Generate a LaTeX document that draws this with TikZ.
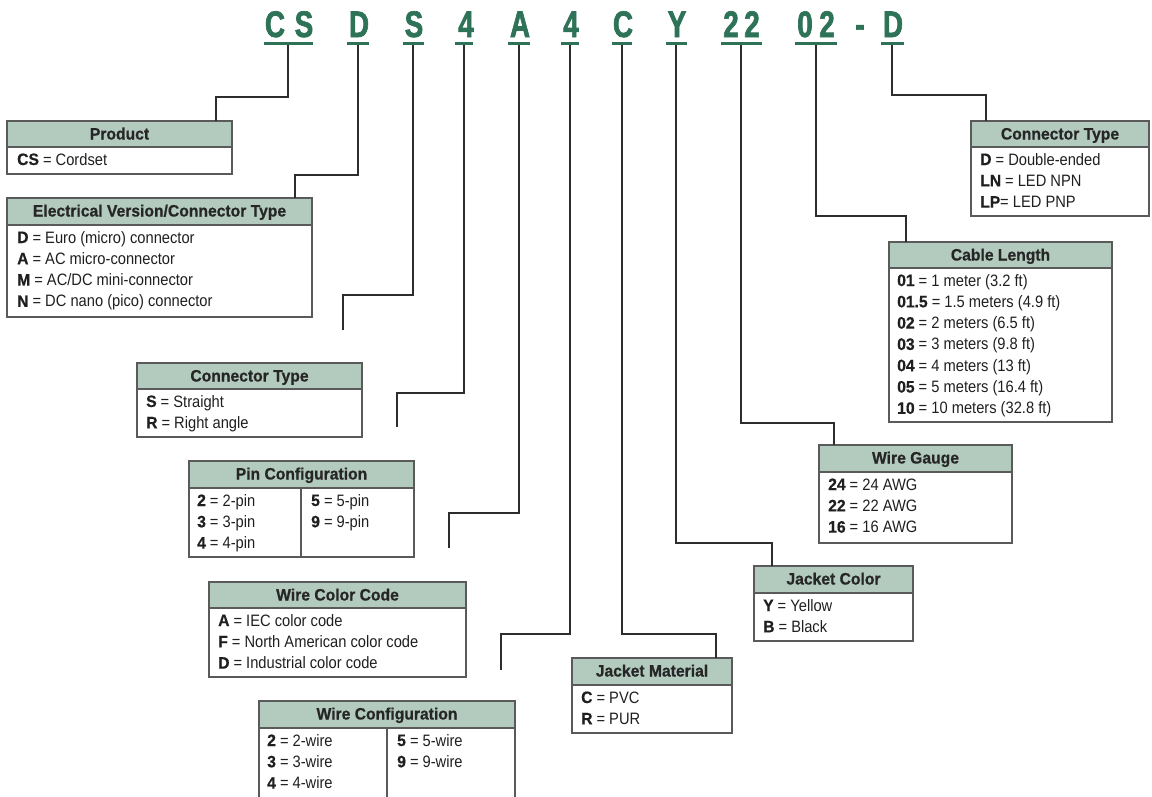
\documentclass[tikz,border=0pt]{standalone}
\usepackage{fontspec}
\setmainfont{Liberation Sans}[FakeStretch=0.89, BoldFeatures={FakeStretch=0.95, FakeBold=0.6}]
\newfontfamily\codefont{Liberation Sans}[FakeStretch=0.75, BoldFeatures={FakeStretch=0.75, FakeBold=1.8}]
\definecolor{codegreen}{RGB}{46,115,88}
\definecolor{hdrgreen}{RGB}{179,203,191}
\definecolor{boxgray}{RGB}{90,90,90}
\definecolor{linegray}{RGB}{45,45,45}
\tikzset{
  frame/.style={draw=boxgray, line width=1.3pt, inner sep=0pt, outer sep=0pt, rectangle},
  hdr/.style={frame, fill=hdrgreen},
  hdrtext/.style={font=\fontsize{16.5}{20}\selectfont\bfseries, text=black!85, inner sep=0pt},
  bodytext/.style={font=\fontsize{16.5}{21.3}\selectfont, text=black!88, inner sep=0pt, anchor=base west},
  code/.style={font=\codefont\bfseries\fontsize{37}{40}\selectfont, text=codegreen, inner sep=0pt, anchor=base},
  uline/.style={fill=codegreen, inner sep=0pt, outer sep=0pt, minimum height=3pt, rectangle},
  conn/.style={draw=linegray, line width=1.3pt},
}
\newcommand\cbox[7]{%
  \node[frame, anchor=north west, minimum width={(#4-#2)*1pt}, minimum height={(#5-#3)*1pt}] (#1) at (#2,#3) {};
  \node[hdr, anchor=north west, minimum width={(#4-#2)*1pt}, minimum height={(#6-#3)*1pt}] (#1-h) at (#2,#3) {};
  \node[hdrtext, anchor=base] (#1-t) at ({(#2+#4)/2},{#3+18.5}) {#7};
}
\newcommand\cbody[4]{\node[bodytext] (#1) at (#2,#3) {\vtop{\baselineskip=21.3pt #4}};}
\newcommand\rw[1]{\hbox{#1}}
\begin{document}
\begin{tikzpicture}[x=1pt,y=-1pt]
\useasboundingbox (0,0) rectangle (1152,796);

% ---- code letters ----
\node[code] (lC1) at (275,37) {C};
\node[code] (lS1) at (304,37) {S};
\node[code] (lD1) at (359,37) {D};
\node[code] (lS2) at (414,37) {S};
\node[code] (l4a) at (466,37) {4};
\node[code] (lA)  at (520,37) {A};
\node[code] (l4b) at (571,37) {4};
\node[code] (lC2) at (623,37) {C};
\node[code] (lY)  at (677,37) {Y};
\node[code] (l2a) at (731,37) {2};
\node[code] (l2b) at (752,37) {2};
\node[code] (l0)  at (805,37) {0};
\node[code] (l2c) at (827,37) {2};
\node[code] (ldash) at (860,37) {-};
\node[code] (lD2) at (893,37) {D};

% ---- underlines ----
\node[uline, minimum width=49pt] (uCS) at (288,43) {};
\node[uline, minimum width=22pt] (uD1) at (358,43) {};
\node[uline, minimum width=21pt] (uS) at (413,43) {};
\node[uline, minimum width=18pt] (u4a) at (464,43) {};
\node[uline, minimum width=22pt] (uA) at (519,43) {};
\node[uline, minimum width=18pt] (u4b) at (570,43) {};
\node[uline, minimum width=20pt] (uC) at (622,43) {};
\node[uline, minimum width=21pt] (uY) at (676,43) {};
\node[uline, minimum width=41pt] (u22) at (741,43) {};
\node[uline, minimum width=42pt] (u02) at (816,43) {};
\node[uline, minimum width=23pt] (uD2) at (892,43) {};

% ---- boxes ----
\cbox{prod}{7}{121}{232}{174}{147}{Product}
\cbody{prod-b}{17}{165}{\rw{\textbf{CS} = Cordset}}

\cbox{elec}{7}{198}{312}{317}{225}{Electrical Version/Connector Type}
\cbody{elec-b}{17}{243}{\rw{\textbf{D} = Euro (micro) connector}\rw{\textbf{A} = AC micro-connector}\rw{\textbf{M} = AC/DC mini-connector}\rw{\textbf{N} = DC nano (pico) connector}}

\cbox{ct1}{137}{363}{362}{437}{389}{Connector Type}
\cbody{ct1-b}{146}{407}{\rw{\textbf{S} = Straight}\rw{\textbf{R} = Right angle}}

\cbox{pin}{189}{461}{414}{557}{488}{Pin Configuration}
\draw[frame] (301,488) -- (301,557);
\cbody{pin-b1}{197}{506}{\rw{\textbf{2} = 2-pin}\rw{\textbf{3} = 3-pin}\rw{\textbf{4} = 4-pin}}
\cbody{pin-b2}{311}{506}{\rw{\textbf{5} = 5-pin}\rw{\textbf{9} = 9-pin}}

\cbox{wcc}{209}{582}{466}{677}{608}{Wire Color Code}
\cbody{wcc-b}{218}{626}{\rw{\textbf{A} = IEC color code}\rw{\textbf{F} = North American color code}\rw{\textbf{D} = Industrial color code}}

\cbox{wcfg}{259}{701}{515}{812}{728}{Wire Configuration}
\draw[frame] (387,728) -- (387,812);
\cbody{wcfg-b1}{267}{746}{\rw{\textbf{2} = 2-wire}\rw{\textbf{3} = 3-wire}\rw{\textbf{4} = 4-wire}}
\cbody{wcfg-b2}{397}{746}{\rw{\textbf{5} = 5-wire}\rw{\textbf{9} = 9-wire}}

\cbox{jm}{572}{658}{732}{733}{685}{Jacket Material}
\cbody{jm-b}{581}{703}{\rw{\textbf{C} = PVC}\rw{\textbf{R} = PUR}}

\cbox{jc}{754}{566}{913}{641}{593}{Jacket Color}
\cbody{jc-b}{763}{611}{\rw{\textbf{Y} = Yellow}\rw{\textbf{B} = Black}}

\cbox{wg}{819}{445}{1012}{543}{472}{Wire Gauge}
\cbody{wg-b}{828}{490}{\rw{\textbf{24} = 24 AWG}\rw{\textbf{22} = 22 AWG}\rw{\textbf{16} = 16 AWG}}

\cbox{cl}{889}{242}{1112}{422}{268}{Cable Length}
\cbody{cl-b}{897}{286}{\rw{\textbf{01} = 1 meter (3.2 ft)}\rw{\textbf{01.5} = 1.5 meters (4.9 ft)}\rw{\textbf{02} = 2 meters (6.5 ft)}\rw{\textbf{03} = 3 meters (9.8 ft)}\rw{\textbf{04} = 4 meters (13 ft)}\rw{\textbf{05} = 5 meters (16.4 ft)}\rw{\textbf{10} = 10 meters (32.8 ft)}}

\cbox{ct2}{971}{121}{1149}{216}{147}{Connector Type}
\cbody{ct2-b}{980}{165}{\rw{\textbf{D} = Double-ended}\rw{\textbf{LN} = LED NPN}\rw{\textbf{LP}= LED PNP}}

% ---- connectors ----
\coordinate (kCS) at (216,97);
\draw[conn] (uCS.south) |- (kCS) -- (kCS |- prod.north);
\coordinate (kD1) at (295,175);
\draw[conn] (uD1.south) |- (kD1) -- (kD1 |- elec.north);
\coordinate (kS) at (343,295);
\coordinate (eS) at (343,330);
\draw[conn] (uS.south) |- (kS) -- (eS);
\coordinate (k4a) at (397,393);
\coordinate (e4a) at (397,427);
\draw[conn] (u4a.south) |- (k4a) -- (e4a);
\coordinate (kA) at (449,513);
\coordinate (eA) at (449,548);
\draw[conn] (uA.south) |- (kA) -- (eA);
\coordinate (k4b) at (501,634);
\coordinate (e4b) at (501,670);
\draw[conn] (u4b.south) |- (k4b) -- (e4b);
\coordinate (kC) at (716,634);
\draw[conn] (uC.south) |- (kC) -- (kC |- jm.north);
\coordinate (kY) at (772,543);
\draw[conn] (uY.south) |- (kY) -- (kY |- jc.north);
\coordinate (k22) at (834,423);
\draw[conn] (u22.south) |- (k22) -- (k22 |- wg.north);
\coordinate (k02) at (906,216);
\draw[conn] (u02.south) |- (k02) -- (k02 |- cl.north);
\coordinate (kD2) at (986,95);
\draw[conn] (uD2.south) |- (kD2) -- (kD2 |- ct2.north);
\end{tikzpicture}
\end{document}
